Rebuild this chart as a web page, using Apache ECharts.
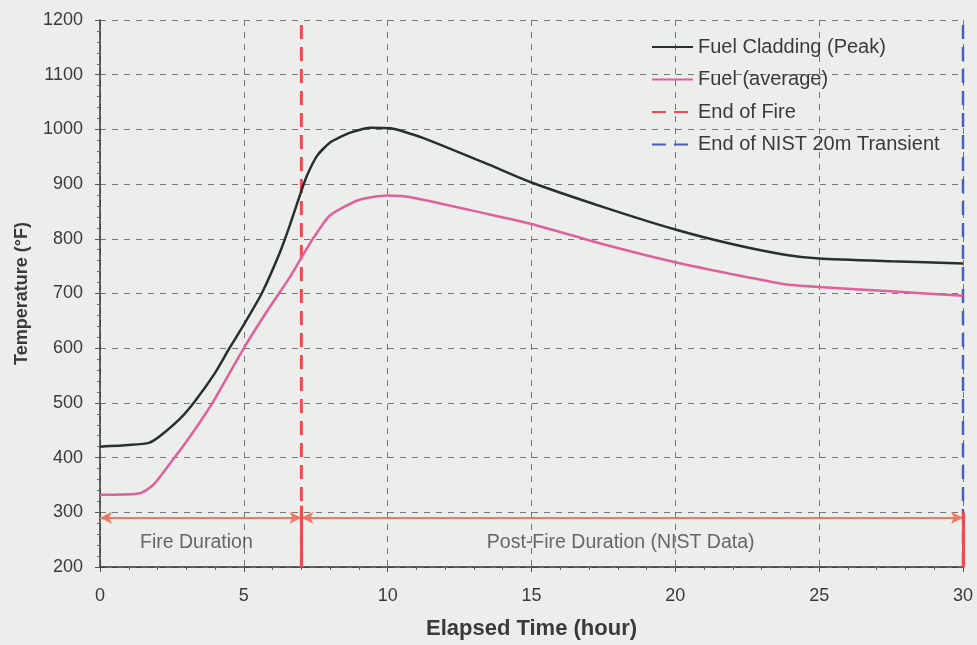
<!DOCTYPE html>
<html><head><meta charset="utf-8">
<script src="https://cdn.jsdelivr.net/npm/echarts@6/dist/echarts.min.js"></script>
<style>html,body{margin:0;padding:0;background:#eceeeb;}#c{width:977px;height:645px;}</style>
</head><body><div id="c"></div>
<script>
const seriesNames = ['Fuel Cladding (Peak)', 'Fuel (average)', 'End of Fire', 'End of NIST 20m Transient'];
const claddingPeak = [[0,420],[1,423],[1.7,427],[2.1,440],[2.8,472],[3.3,503],[4,555],[4.5,600],[5,643],[5.62,700],[6.26,776],[6.6,825],[6.95,880],[7.2,916],[7.55,952],[8,976],[8.7,994],[9.4,1003],[10.1,1002],[11.2,985],[13.5,936],[15,903],[17.5,858],[20,817],[22,790],[23.8,771],[25,764],[27.5,759],[30,755]];
const fuelAverage = [[0,332],[1.4,335],[1.85,350],[2.4,387],[3,429],[3.5,467],[4,508],[5,600],[5.8,667],[6.6,730],[6.95,761],[7.4,800],[8,843],[9,871],[10,879],[10.8,876],[13.5,845],[15,827],[17.5,790],[20,757],[22,735],[23.8,717],[25,712],[27.5,704],[30,696]];
const endOfFire = 7;
const nistEnd = 30;
const xRange = [0, 30];
const yRange = [200, 1200];
const arrowY = 290;
const spanLabels = ['Fire Duration', 'Post-Fire Duration (NIST Data)'];
const spanLabelPos = [[3.35, 244], [18.1, 244]];

const chart = echarts.init(document.getElementById('c'));
const txt = '#3a3a3a';
chart.setOption({
  backgroundColor: '#eceeeb',
  animation: false,
  textStyle: { fontFamily: 'Liberation Sans, Arial, sans-serif' },
  grid: { left: 100, right: 14, top: 20, bottom: 76 },
  legend: {
    data: seriesNames,
    orient: 'vertical',
    left: 646, top: 32,
    itemWidth: 41, itemHeight: 14, itemGap: 12.5,
    itemStyle: { opacity: 0 },
    textStyle: { fontSize: 20, color: txt }
  },
  xAxis: {
    type: 'value', min: xRange[0], max: xRange[1], interval: 5,
    name: 'Elapsed Time (hour)', nameLocation: 'middle', nameGap: 51,
    nameTextStyle: { fontSize: 22, fontWeight: 'bold', color: txt },
    axisLine: { lineStyle: { color: '#333', width: 1.5 } },
    axisTick: { show: true, length: 5, lineStyle: { color: '#555' } },
    minorTick: { show: true, splitNumber: 5, length: 3, lineStyle: { color: '#666' } },
    axisLabel: { fontSize: 18, color: txt, margin: 20 },
    splitLine: { show: true, lineStyle: { color: '#777', type: [6, 6], width: 1 } }
  },
  yAxis: {
    type: 'value', min: yRange[0], max: yRange[1], interval: 100,
    name: 'Temperature (°F)', nameLocation: 'middle', nameGap: 69,
    nameTextStyle: { fontSize: 18, fontWeight: 'bold', color: txt },
    axisLine: { show: true, lineStyle: { color: '#333', width: 1.5 } },
    axisTick: { show: true, length: 5, lineStyle: { color: '#555' } },
    minorTick: { show: true, splitNumber: 5, length: 3, lineStyle: { color: '#666' } },
    axisLabel: { fontSize: 18, color: txt, margin: 17, formatter: v => String(v) },
    splitLine: { show: true, lineStyle: { color: '#777', type: [6, 6], width: 1 } }
  },
  series: [
    { name: seriesNames[0], type: 'line', data: claddingPeak, smooth: 0.2, symbol: 'none',
      lineStyle: { color: '#27302b', width: 2.5 }, itemStyle: { color: '#27302b' }, z: 5 },
    { name: seriesNames[1], type: 'line', data: fuelAverage, smooth: 0.2, symbol: 'none',
      lineStyle: { color: '#e0609a', width: 2.5 }, itemStyle: { color: '#e0609a' }, z: 5 },
    { name: seriesNames[2], type: 'line', data: [[endOfFire, yRange[0]], [endOfFire, yRange[1]]], symbol: 'none',
      lineStyle: { color: '#f04a55', width: 3, type: [14, 8] }, itemStyle: { color: '#f04a55' }, z: 4 },
    { name: seriesNames[3], type: 'line', data: [[nistEnd, yRange[0]], [nistEnd, yRange[1]]], symbol: 'none',
      lineStyle: { color: '#4a5cc0', width: 2.5, type: [14, 8] }, itemStyle: { color: '#4a5cc0' }, z: 4 },
    { name: 'annotations', type: 'scatter', data: spanLabelPos.map((p, i) => ({ value: p, name: spanLabels[i] })),
      symbolSize: 0, silent: true,
      label: { show: true, formatter: '{b}', position: 'inside', fontSize: 19.5, color: '#444' },
      markLine: {
        silent: true, symbol: ['arrow', 'arrow'], symbolSize: [9, 12], label: { show: false },
        lineStyle: { color: '#f07862', width: 2, type: 'solid' },
        data: [
          [{ coord: [xRange[0], arrowY] }, { coord: [endOfFire, arrowY] }],
          [{ coord: [endOfFire, arrowY] }, { coord: [nistEnd, arrowY] }],
          [{ coord: [endOfFire, yRange[0]], symbol: 'none' }, { coord: [endOfFire, 312], symbol: 'none', lineStyle: { color: '#f04a55', width: 3 } }],
          [{ coord: [nistEnd, yRange[0]], symbol: 'none' }, { coord: [nistEnd, 300], symbol: 'none', lineStyle: { color: '#f04a55', width: 3 } }]
        ]
      }, z: 6 }
  ]
});
</script></body></html>
